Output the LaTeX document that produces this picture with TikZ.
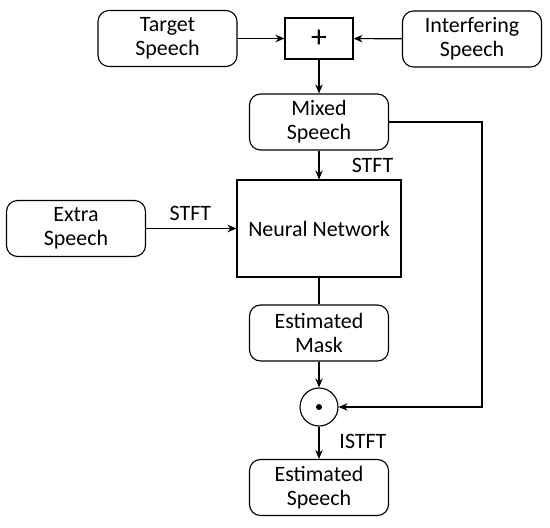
\documentclass[tikz,border=0pt]{standalone}
\usepackage{fontspec}
\setmainfont{Carlito}
\usetikzlibrary{arrows.meta}

\begin{document}
\begin{tikzpicture}[x=0.02cm,y=-0.02cm,>={Stealth[length=1.8mm,width=1.5mm]},line width=0.65pt,
  txt/.style={font=\fontsize{12.5}{13.6}\selectfont},
  sbox/.style={draw,txt,rounded corners=0.22cm,minimum width=2.78cm,minimum height=1.12cm,align=center,inner sep=0pt}]
  \useasboundingbox (0,0) rectangle (550,527);
  % sources and mixing
  \node[sbox] (target) at (167.5,38.5) {Target\\Speech};
  \node[draw,minimum width=1.36cm,minimum height=0.82cm,inner sep=0pt,font=\fontsize{18}{18}\selectfont] (plus) at (319,38.5) {+};
  \node[sbox] (interf) at (472,39) {Interfering\\Speech};
  \node[sbox] (mixed) at (319,122) {Mixed\\Speech};
  \draw[->] (target) -- (plus);
  \draw[->] (interf) -- (plus);
  \draw[->] (plus) -- (mixed);
  % network
  \node[draw,txt,minimum width=3.28cm,minimum height=1.94cm,inner sep=0pt] (net) at (319,228.5) {Neural Network};
  \node[sbox] (extra) at (76,228.5) {Extra\\Speech};
  \draw[->] (mixed) -- (net) node[txt,pos=0.5,right=15pt] {STFT};
  \draw[->] (extra) -- (net) node[txt,pos=0.49,above=1pt] {STFT};
  % masking
  \node[sbox] (mask) at (319,333) {Estimated\\Mask};
  \node[draw,circle,minimum size=0.76cm,inner sep=0pt] (prod) at (319,407) {};
  \fill (prod) circle (1.7pt);
  \node[sbox] (est) at (319,487.5) {Estimated\\Speech};
  \draw (net) -- (mask);
  \draw[->] (mask) -- (prod);
  \draw[->] (prod) -- (est) node[txt,pos=0.45,right=8pt] {ISTFT};
  \coordinate (bend) at (482,122);
  \draw[->] (mixed.east) -- (bend) |- (prod.east);
\end{tikzpicture}
\end{document}
